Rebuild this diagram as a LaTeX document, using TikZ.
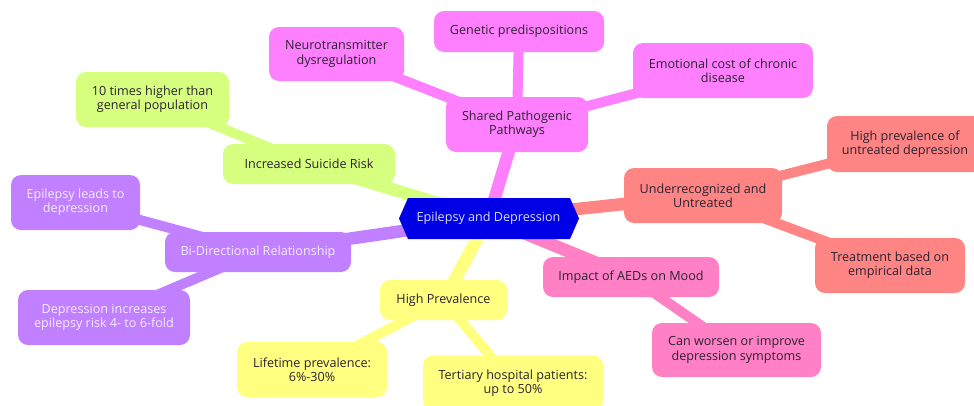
\documentclass[tikz,border=0pt]{standalone}
\usepackage{fontspec}
\setmainfont{Open Sans}
\usetikzlibrary{backgrounds}
\definecolor{rootc}{HTML}{0000E6}
\definecolor{roottxt}{HTML}{DCDCFF}
\definecolor{pinkA}{HTML}{FF80FF}
\definecolor{limeA}{HTML}{D6FF80}
\definecolor{purpA}{HTML}{C080FF}
\definecolor{yelA}{HTML}{FFFF80}
\definecolor{pinkB}{HTML}{FF80C4}
\definecolor{salA}{HTML}{FF8484}
\definecolor{darktxt}{HTML}{2B2230}
\definecolor{lighttxt}{HTML}{F4ECFF}
\tikzset{
  x=1pt, y=-1pt,
  mmfont/.style={font=\fontsize{12.6}{14.4}\selectfont},
  mmbox/.style={rounded corners=10pt, inner sep=0pt, align=center, text=darktxt, mmfont},
  sz/.style 2 args={minimum width=#1pt, minimum height=#2pt},
  rootedge/.style={line width=12.5pt},
  childedge/.style={line width=10pt},
}
\begin{document}
\begin{tikzpicture}
\useasboundingbox (0,0) rectangle (974,405);
\clip (0,0) rectangle (974,405);
% root hexagon
\node[inner sep=0pt, minimum width=179pt, minimum height=41pt] (root) at (488.5,218.5) {};
\fill[rootc] (399,218.5) -- (408,198) -- (570,198) -- (579,218.5) -- (570,239) -- (408,239) -- cycle;
\node[text=roottxt, mmfont] (roottext) at (root.center) {Epilepsy and Depression};
% Shared pathogenic
\node[mmbox, fill=pinkA, sz={142}{55}] (shared) at (517,124.5) {Shared Pathogenic\\Pathways};
\node[mmbox, fill=pinkA, sz={135}{54}] (neuro) at (336.5,54) {Neurotransmitter\\dysregulation};
\node[mmbox, fill=pinkA, sz={170}{41}] (genetic) at (519,31.5) {Genetic predispositions};
\node[mmbox, fill=pinkA, sz={180}{55}] (emot) at (723,70.5) {Emotional cost of chronic\\disease};
% suicide
\node[mmbox, fill=limeA, sz={172}{40}] (suicide) at (309,164) {Increased Suicide Risk};
\node[mmbox, fill=limeA, sz={153}{55}] (tentimes) at (152.5,99.5) {10 times higher than\\general population};
% bidirectional
\node[mmbox, fill=purpA, text=lighttxt, sz={186}{40}] (bidir) at (258,252) {Bi-Directional Relationship};
\node[mmbox, fill=purpA, text=lighttxt, sz={129}{55}] (leads) at (75.5,202.5) {Epilepsy leads to\\depression};
\node[mmbox, fill=purpA, text=lighttxt, sz={172}{55}] (incr) at (104,317.5) {Depression increases\\epilepsy risk 4- to 6-fold};
% high prevalence
\node[mmbox, fill=yelA, sz={127}{40}] (highprev) at (443.5,300) {High Prevalence};
\node[mmbox, fill=yelA, sz={150}{55}] (lifetime) at (312,369.5) {Lifetime prevalence:\\6\%-30\%};
\node[mmbox, fill=yelA, sz={180}{55}] (tertiary) at (513,383) {Tertiary hospital patients:\\up to 50\%};
% impact
\node[mmbox, fill=pinkB, sz={176}{40}] (impact) at (631,277) {Impact of AEDs on Mood};
\node[mmbox, fill=pinkB, sz={169}{54}] (worsen) at (736.5,350) {Can worsen or improve\\depression symptoms};
% underrecognized
\node[mmbox, fill=salA, sz={158}{55}] (under) at (703,195.5) {Underrecognized and\\Untreated};
\node[mmbox, fill=salA, sz={156}{56}] (untreated) at (905,144) {High prevalence of\\untreated depression};
\node[mmbox, fill=salA, sz={150}{55}] (treat) at (890,265.5) {Treatment based on\\empirical data};
% edges
\begin{scope}[on background layer]
\draw[rootedge, pinkA] (root.center) -- (shared.center);
\draw[rootedge, limeA] (root.center) -- (suicide.center);
\draw[rootedge, purpA] (root.center) -- (bidir.center);
\draw[rootedge, yelA] (root.center) -- (highprev.center);
\draw[rootedge, pinkB] (root.center) -- (impact.center);
\draw[rootedge, salA] (root.center) -- (under.center);
\draw[childedge, pinkA] (shared.center) -- (neuro.center);
\draw[childedge, pinkA] (shared.center) -- (genetic.center);
\draw[childedge, pinkA] (shared.center) -- (emot.center);
\draw[childedge, limeA] (suicide.center) -- (tentimes.center);
\draw[childedge, purpA] (bidir.center) -- (leads.center);
\draw[childedge, purpA] (bidir.center) -- (incr.center);
\draw[childedge, yelA] (highprev.center) -- (lifetime.center);
\draw[childedge, yelA] (highprev.center) -- (tertiary.center);
\draw[childedge, pinkB] (impact.center) -- (worsen.center);
\draw[childedge, salA] (under.center) -- (untreated.center);
\draw[childedge, salA] (under.center) -- (treat.center);
\end{scope}
\end{tikzpicture}
\end{document}
